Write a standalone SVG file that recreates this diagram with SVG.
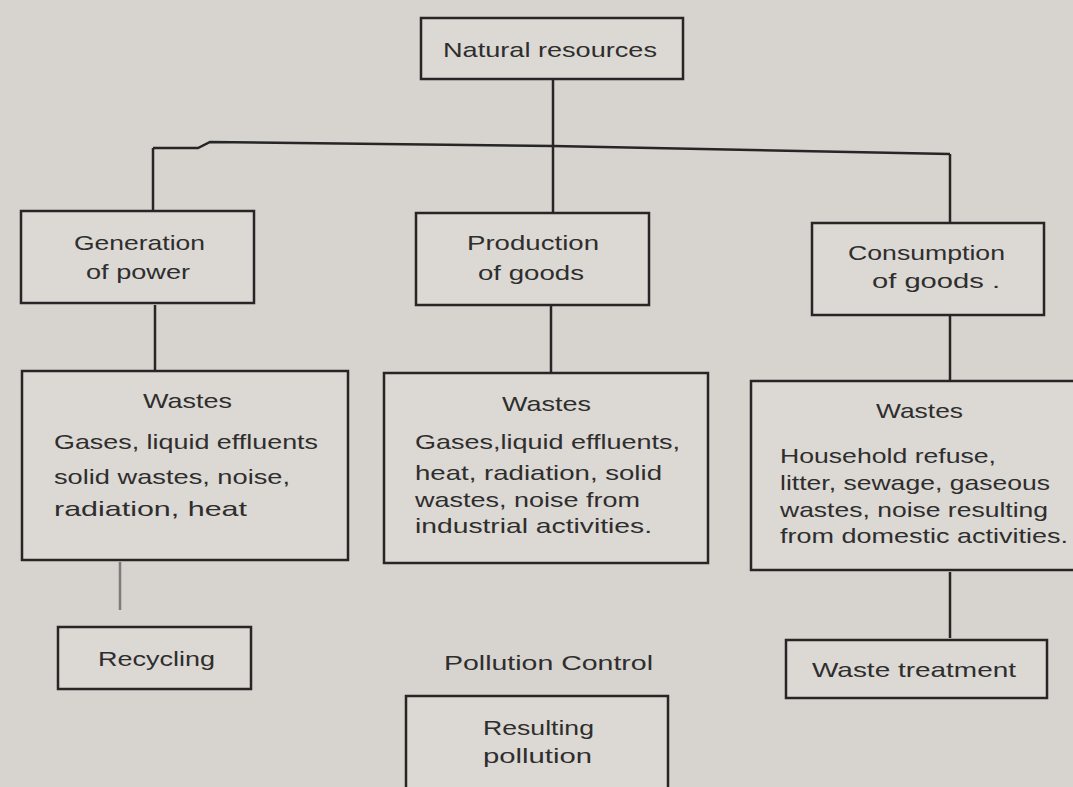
<svg xmlns="http://www.w3.org/2000/svg" width="1073" height="787" viewBox="0 0 1073 787">
<defs>
<style>
.bg{fill:#d7d3ce}
.box{fill:#dcd8d3;stroke:#262626;stroke-width:2.5}
.edge{stroke:#262626;stroke-width:2.5;fill:none}
.t{font-family:"Liberation Sans",Arial,sans-serif;font-size:21px;fill:#2e2e2e}
</style>
</defs>
<rect class="bg" x="0" y="0" width="1073" height="787"/>
<g id="connectors">
<line class="edge" x1="553" y1="80" x2="553" y2="147"/>
<path class="edge" d="M153 148 L198 148 L210 142 L553 146 L950 154"/>
<line class="edge" x1="153" y1="148" x2="153" y2="210"/>
<line class="edge" x1="553" y1="146" x2="553" y2="213"/>
<line class="edge" x1="950" y1="154" x2="950" y2="222"/>
<line class="edge" x1="155" y1="305" x2="155" y2="370"/>
<line class="edge" x1="551" y1="305" x2="551" y2="372"/>
<line class="edge" x1="950" y1="316" x2="950" y2="380"/>
<line class="edge" x1="120" y1="562" x2="120" y2="610" stroke-opacity="0.5"/>
<line class="edge" x1="950" y1="572" x2="950" y2="638"/>
</g>
<g id="natural-resources">
<rect class="box" x="421" y="18" width="262" height="61"/>
<text class="t" x="443" y="57" textLength="214" lengthAdjust="spacingAndGlyphs">Natural resources</text>
</g>
<g id="generation-of-power">
<rect class="box" x="21" y="211" width="233" height="92"/>
<text class="t" x="74" y="250" textLength="131" lengthAdjust="spacingAndGlyphs">Generation</text>
<text class="t" x="86" y="279" textLength="104" lengthAdjust="spacingAndGlyphs">of power</text>
</g>
<g id="production-of-goods">
<rect class="box" x="416" y="213" width="233" height="92"/>
<text class="t" x="467" y="250" textLength="132" lengthAdjust="spacingAndGlyphs">Production</text>
<text class="t" x="478" y="280" textLength="106" lengthAdjust="spacingAndGlyphs">of goods</text>
</g>
<g id="consumption-of-goods">
<rect class="box" x="812" y="223" width="232" height="92"/>
<text class="t" x="848" y="260" textLength="157" lengthAdjust="spacingAndGlyphs">Consumption</text>
<text class="t" x="872" y="288" textLength="128" lengthAdjust="spacingAndGlyphs">of goods .</text>
</g>
<g id="wastes-power">
<rect class="box" x="22" y="371" width="326" height="189"/>
<text class="t" x="143" y="408" textLength="89" lengthAdjust="spacingAndGlyphs">Wastes</text>
<text class="t" x="54" y="449" textLength="264" lengthAdjust="spacingAndGlyphs">Gases, liquid effluents</text>
<text class="t" x="54" y="484" textLength="236" lengthAdjust="spacingAndGlyphs">solid wastes,  noise,</text>
<text class="t" x="54" y="516" textLength="193" lengthAdjust="spacingAndGlyphs">radiation,  heat</text>
</g>
<g id="wastes-production">
<rect class="box" x="384" y="373" width="324" height="190"/>
<text class="t" x="502" y="411" textLength="89" lengthAdjust="spacingAndGlyphs">Wastes</text>
<text class="t" x="415" y="449" textLength="265" lengthAdjust="spacingAndGlyphs">Gases,liquid effluents,</text>
<text class="t" x="415" y="480" textLength="247" lengthAdjust="spacingAndGlyphs">heat, radiation, solid</text>
<text class="t" x="415" y="507" textLength="225" lengthAdjust="spacingAndGlyphs">wastes, noise from</text>
<text class="t" x="415" y="533" textLength="237" lengthAdjust="spacingAndGlyphs">industrial  activities.</text>
</g>
<g id="wastes-consumption">
<rect class="box" x="751" y="381" width="330" height="189"/>
<text class="t" x="876" y="418" textLength="87" lengthAdjust="spacingAndGlyphs">Wastes</text>
<text class="t" x="780" y="463" textLength="216" lengthAdjust="spacingAndGlyphs">Household refuse,</text>
<text class="t" x="780" y="490" textLength="270" lengthAdjust="spacingAndGlyphs">litter, sewage, gaseous</text>
<text class="t" x="780" y="517" textLength="268" lengthAdjust="spacingAndGlyphs">wastes, noise resulting</text>
<text class="t" x="780" y="543" textLength="288" lengthAdjust="spacingAndGlyphs">from domestic activities.</text>
</g>
<g id="recycling">
<rect class="box" x="58" y="627" width="193" height="62"/>
<text class="t" x="98" y="666" textLength="117" lengthAdjust="spacingAndGlyphs">Recycling</text>
</g>
<g id="pollution-control">
<text class="t" x="444" y="670" textLength="209" lengthAdjust="spacingAndGlyphs">Pollution Control</text>
</g>
<g id="resulting-pollution">
<rect class="box" x="406" y="696" width="262" height="100"/>
<text class="t" x="483" y="735" textLength="111" lengthAdjust="spacingAndGlyphs">Resulting</text>
<text class="t" x="483" y="763" textLength="109" lengthAdjust="spacingAndGlyphs">pollution</text>
</g>
<g id="waste-treatment">
<rect class="box" x="786" y="640" width="261" height="58"/>
<text class="t" x="812" y="677" textLength="204" lengthAdjust="spacingAndGlyphs">Waste treatment</text>
</g>
</svg>
